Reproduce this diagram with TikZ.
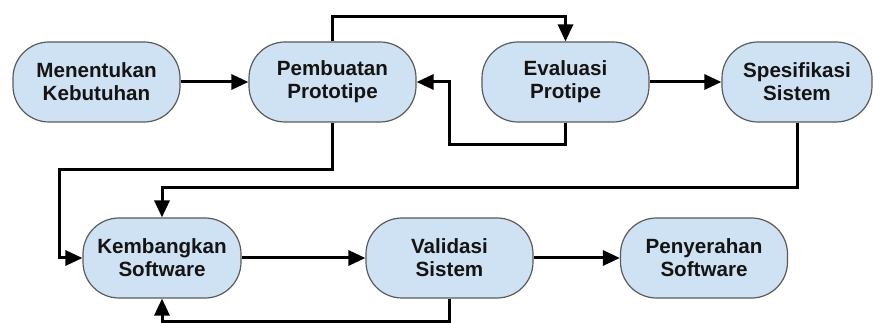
\documentclass[tikz,border=0pt]{standalone}
\usepackage{fontspec}
\setmainfont{Liberation Sans}
\usetikzlibrary{arrows.meta}
\definecolor{boxfill}{HTML}{CFE2F3}
\definecolor{boxline}{HTML}{5A5A5A}
\begin{document}
\begin{tikzpicture}[x=1pt,y=-1pt,
  procbox/.style={draw=boxline, line width=1.2pt, fill=boxfill, rounded corners=36pt,
    minimum width=167pt, minimum height=80pt, align=center, inner sep=0pt,
    font=\fontsize{20.6}{23}\selectfont\bfseries, text=black!92},
  arr/.style={line width=3pt, -{Triangle[length=17pt,width=15pt]}}]
\useasboundingbox (0,0) rectangle (873,323);
\node[procbox] (n1) at (96.5,82) {Menentukan\\Kebutuhan};
\node[procbox] (n2) at (332.5,82) {Pembuatan\\Prototipe};
\node[procbox] (n3) at (565.5,82) {Evaluasi\\Protipe};
\node[procbox, minimum width=150pt] (n4) at (797,82) {Spesifikasi\\Sistem};
\node[procbox, minimum width=158pt] (n5) at (162,258) {Kembangkan\\Software};
\node[procbox] (n6) at (449.5,258) {Validasi\\Sistem};
\node[procbox] (n7) at (704,258) {Penyerahan\\Software};
\draw[arr] (n1) -- (n2);
\draw[arr] (n2.north) -- (n2.north |- 0,17) -| (n3.north);
\draw[arr] (n3.south) |- (449,145) |- (n2.east);
\draw[arr] (n3) -- (n4);
\draw[arr] (n2.south) |- (59,170) |- (n5.west);
\draw[arr] (n4.south) -- (n4.south |- 0,188) -| (n5.north);
\draw[arr] (n5) -- (n6);
\draw[arr] (n6.south) -- (n6.south |- 0,321) -| (n5.south);
\draw[arr] (n6) -- (n7);
\end{tikzpicture}
\end{document}
